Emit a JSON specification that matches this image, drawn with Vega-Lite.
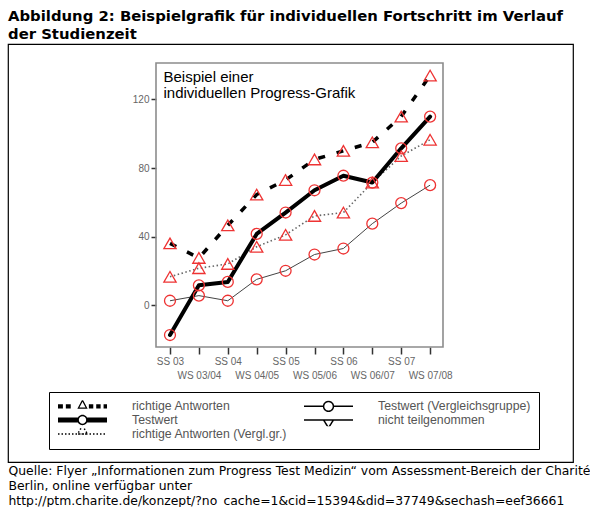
{
  "$schema": "https://vega.github.io/schema/vega-lite/v6.json",
  "width": 565,
  "height": 418,
  "padding": {"left": 8, "top": 9, "right": 0, "bottom": 0},
  "background": "white",
  "title": {
    "text": ["Abbildung 2: Beispielgrafik für individuellen Fortschritt im Verlauf", "der Studienzeit"],
    "anchor": "start",
    "frame": "group",
    "font": "DejaVu Sans",
    "fontSize": 14.85,
    "fontWeight": "bold",
    "color": "black",
    "lineHeight": 18,
    "offset": 2
  },
  "config": {
    "view": {"stroke": "black", "strokeWidth": 1.2},
    "axis": {"grid": false}
  },
  "data": {
    "values": [
      {"i": 0, "sem": "SS 03", "series": "richtige Antworten", "value": 36},
      {"i": 1, "sem": "WS 03/04", "series": "richtige Antworten", "value": 27.5},
      {"i": 2, "sem": "SS 04", "series": "richtige Antworten", "value": 46.5},
      {"i": 3, "sem": "WS 04/05", "series": "richtige Antworten", "value": 64.5},
      {"i": 4, "sem": "SS 05", "series": "richtige Antworten", "value": 73},
      {"i": 5, "sem": "WS 05/06", "series": "richtige Antworten", "value": 85},
      {"i": 6, "sem": "SS 06", "series": "richtige Antworten", "value": 90},
      {"i": 7, "sem": "WS 06/07", "series": "richtige Antworten", "value": 95},
      {"i": 8, "sem": "SS 07", "series": "richtige Antworten", "value": 110},
      {"i": 9, "sem": "WS 07/08", "series": "richtige Antworten", "value": 134},
      {"i": 0, "sem": "SS 03", "series": "Testwert", "value": -17.5},
      {"i": 1, "sem": "WS 03/04", "series": "Testwert", "value": 11.5},
      {"i": 2, "sem": "SS 04", "series": "Testwert", "value": 13.5},
      {"i": 3, "sem": "WS 04/05", "series": "Testwert", "value": 41.5},
      {"i": 4, "sem": "SS 05", "series": "Testwert", "value": 54},
      {"i": 5, "sem": "WS 05/06", "series": "Testwert", "value": 67},
      {"i": 6, "sem": "SS 06", "series": "Testwert", "value": 75.5},
      {"i": 7, "sem": "WS 06/07", "series": "Testwert", "value": 71.5},
      {"i": 8, "sem": "SS 07", "series": "Testwert", "value": 91.5},
      {"i": 9, "sem": "WS 07/08", "series": "Testwert", "value": 110},
      {"i": 0, "sem": "SS 03", "series": "richtige Antworten (Vergl.gr.)", "value": 16.5},
      {"i": 1, "sem": "WS 03/04", "series": "richtige Antworten (Vergl.gr.)", "value": 21.5},
      {"i": 2, "sem": "SS 04", "series": "richtige Antworten (Vergl.gr.)", "value": 24},
      {"i": 3, "sem": "WS 04/05", "series": "richtige Antworten (Vergl.gr.)", "value": 34},
      {"i": 4, "sem": "SS 05", "series": "richtige Antworten (Vergl.gr.)", "value": 41},
      {"i": 5, "sem": "WS 05/06", "series": "richtige Antworten (Vergl.gr.)", "value": 52},
      {"i": 6, "sem": "SS 06", "series": "richtige Antworten (Vergl.gr.)", "value": 54},
      {"i": 7, "sem": "WS 06/07", "series": "richtige Antworten (Vergl.gr.)", "value": 71.5},
      {"i": 8, "sem": "SS 07", "series": "richtige Antworten (Vergl.gr.)", "value": 87},
      {"i": 9, "sem": "WS 07/08", "series": "richtige Antworten (Vergl.gr.)", "value": 96.5},
      {"i": 0, "sem": "SS 03", "series": "Testwert (Vergleichsgruppe)", "value": 2.5},
      {"i": 1, "sem": "WS 03/04", "series": "Testwert (Vergleichsgruppe)", "value": 5.5},
      {"i": 2, "sem": "SS 04", "series": "Testwert (Vergleichsgruppe)", "value": 2.5},
      {"i": 3, "sem": "WS 04/05", "series": "Testwert (Vergleichsgruppe)", "value": 15},
      {"i": 4, "sem": "SS 05", "series": "Testwert (Vergleichsgruppe)", "value": 20},
      {"i": 5, "sem": "WS 05/06", "series": "Testwert (Vergleichsgruppe)", "value": 29.5},
      {"i": 6, "sem": "SS 06", "series": "Testwert (Vergleichsgruppe)", "value": 33},
      {"i": 7, "sem": "WS 06/07", "series": "Testwert (Vergleichsgruppe)", "value": 47.5},
      {"i": 8, "sem": "SS 07", "series": "Testwert (Vergleichsgruppe)", "value": 59.5},
      {"i": 9, "sem": "WS 07/08", "series": "Testwert (Vergleichsgruppe)", "value": 70}
    ]
  },
  "encoding": {
    "x": {
      "field": "i",
      "type": "quantitative",
      "scale": {"domain": [-0.484, 9.446], "range": [148, 435], "nice": false, "zero": false},
      "axis": {
        "values": [0, 1, 2, 3, 4, 5, 6, 7, 8, 9],
        "labelExpr": "datum.value % 2 == 1 ? ['', ['SS 03','WS 03/04','SS 04','WS 04/05','SS 05','WS 05/06','SS 06','WS 06/07','SS 07','WS 07/08'][datum.value]] : ['SS 03','WS 03/04','SS 04','WS 04/05','SS 05','WS 05/06','SS 06','WS 06/07','SS 07','WS 07/08'][datum.value]",
        "offset": -115,
        "domain": false,
        "tickSize": 7,
        "tickWidth": 1.5,
        "tickColor": "#333333",
        "labelFont": "Liberation Sans",
        "labelFontSize": 10,
        "labelColor": "#666666",
        "labelPadding": 2,
        "labelLineHeight": 14,
        "labelBaseline": "top",
        "labelOverlap": false,
        "labelFlush": false,
        "title": [
          "Quelle: Flyer „Informationen zum Progress Test Medizin“ vom Assessment-Bereich der Charité",
          "Berlin, online verfügbar unter",
          "http://ptm.charite.de/konzept/?no_cache=1&cid=15394&did=37749&sechash=eef36661"
        ],
        "titleX": 0,
        "titleY": 127,
        "titleAlign": "left",
        "titleBaseline": "alphabetic",
        "titleFont": "DejaVu Sans",
        "titleFontSize": 12.4,
        "titleFontWeight": "normal",
        "titleColor": "black",
        "titleLineHeight": 15.2
      }
    },
    "y": {
      "field": "value",
      "type": "quantitative",
      "scale": {"domain": [-24.5, 141.3], "range": [303, 19], "nice": false, "zero": false},
      "axis": {
        "values": [0, 40, 80, 120],
        "offset": -148,
        "domain": false,
        "tickSize": 5,
        "tickWidth": 1.5,
        "tickColor": "#333333",
        "labelFont": "Liberation Sans",
        "labelFontSize": 10,
        "labelColor": "#666666",
        "labelPadding": 2,
        "title": ["Beispiel einer", "individuellen Progress-Grafik"],
        "titleX": 7,
        "titleY": 37,
        "titleAngle": 0,
        "titleAlign": "left",
        "titleBaseline": "alphabetic",
        "titleFont": "Liberation Sans",
        "titleFontSize": 15,
        "titleFontWeight": "normal",
        "titleColor": "black",
        "titleLineHeight": 16
      }
    }
  },
  "layer": [
    {
      "data": {"values": [{"lo": -0.484, "hi": 9.446, "bottom": -24.5, "top": 141.3}]},
      "mark": {"type": "rect", "fill": "transparent", "stroke": "#8c8c8c", "strokeWidth": 1.6},
      "encoding": {
        "x": {"field": "lo", "type": "quantitative"},
        "x2": {"field": "hi"},
        "y": {"field": "bottom", "type": "quantitative"},
        "y2": {"field": "top"}
      }
    },
    {
      "transform": [{"filter": "datum.series === 'Testwert (Vergleichsgruppe)'"}],
      "mark": {"type": "line", "color": "#444444", "strokeWidth": 1}
    },
    {
      "transform": [{"filter": "datum.series === 'richtige Antworten (Vergl.gr.)'"}],
      "mark": {"type": "line", "color": "#666666", "strokeWidth": 1.6, "strokeDash": [1.5, 2.5]}
    },
    {
      "transform": [{"filter": "datum.series === 'richtige Antworten'"}],
      "mark": {"type": "line", "color": "black", "strokeWidth": 3.5, "strokeDash": [7, 12]}
    },
    {
      "transform": [{"filter": "datum.series === 'Testwert'"}],
      "mark": {"type": "line", "color": "black", "strokeWidth": 4, "strokeJoin": "round", "strokeCap": "round"}
    },
    {
      "transform": [{"filter": "datum.series === 'richtige Antworten' || datum.series === 'richtige Antworten (Vergl.gr.)'"}],
      "mark": {"type": "point", "shape": "triangle-up", "size": 150, "filled": false, "stroke": "#ee3333", "strokeWidth": 1.3, "opacity": 1}
    },
    {
      "transform": [{"filter": "datum.series === 'Testwert' || datum.series === 'Testwert (Vergleichsgruppe)'"}],
      "mark": {"type": "point", "shape": "circle", "size": 120, "filled": false, "stroke": "#ee3333", "strokeWidth": 1.3, "opacity": 1}
    },
    {
      "transform": [{"filter": "false"}],
      "mark": {"type": "point", "size": 2401, "filled": true, "opacity": 1, "strokeWidth": 1.5},
      "encoding": {
        "shape": {
          "field": "series",
          "type": "nominal",
          "scale": {
            "domain": ["richtige Antworten", "Testwert", "richtige Antworten (Vergl.gr.)", "Testwert (Vergleichsgruppe)", "nicht teilgenommen"],
            "range": [
              "M -1 -0.09 L -0.8 -0.09 L -0.8 0.09 L -1 0.09 Z M -0.68 -0.09 L -0.48 -0.09 L -0.48 0.09 L -0.68 0.09 Z M 0.26 -0.09 L 0.44 -0.09 L 0.44 0.09 L 0.26 0.09 Z M 0.56 -0.09 L 0.74 -0.09 L 0.74 0.09 L 0.56 0.09 Z M 0.86 -0.09 L 1 -0.09 L 1 0.09 L 0.86 0.09 Z M 0 -0.3 L 0.21 0.1 L -0.21 0.1 Z M 0 -0.19 L -0.126 0.05 L 0.126 0.05 Z",
              "M -1 -0.1 L -0.19 -0.1 L -0.19 0.1 L -1 0.1 Z M 0.19 -0.1 L 1 -0.1 L 1 0.1 L 0.19 0.1 Z M 0.21 0 A 0.21 0.21 0 1 1 -0.21 0 A 0.21 0.21 0 1 1 0.21 0 Z M 0.15 0 A 0.15 0.15 0 1 0 -0.15 0 A 0.15 0.15 0 1 0 0.15 0 Z",
              "M -1 0 L 1 0 M 0 -0.34 L 0.2 0 L -0.2 0 Z",
              "M -1 0 L -0.2 0 M 0.2 0 L 1 0 M 0.2 0 A 0.2 0.2 0 1 1 -0.2 0 A 0.2 0.2 0 1 1 0.2 0 Z",
              "M -1 0 L 1 0 M -0.2 0 L 0.2 0 L 0 0.32 Z"
            ]
          },
          "legend": {
            "title": null,
            "orient": "none",
            "legendX": 41,
            "legendY": 348,
            "columns": 2,
            "gridAlign": "all",
            "symbolSize": 2401,
            "symbolLimit": 0,
            "clipHeight": 12,
            "labelFont": "Liberation Sans",
            "labelFontSize": 12.3,
            "labelColor": "#555555",
            "labelOffset": 24,
            "labelLimit": 0,
            "columnPadding": 15,
            "rowPadding": 1,
            "padding": 8,
            "strokeColor": "black",
            "fillColor": "white"
          }
        },
        "fill": {
          "field": "series",
          "type": "nominal",
          "scale": {
            "domain": ["richtige Antworten", "Testwert", "richtige Antworten (Vergl.gr.)", "Testwert (Vergleichsgruppe)", "nicht teilgenommen"],
            "range": ["black", "black", "white", "white", "white"]
          }
        },
        "stroke": {
          "field": "series",
          "type": "nominal",
          "scale": {
            "domain": ["richtige Antworten", "Testwert", "richtige Antworten (Vergl.gr.)", "Testwert (Vergleichsgruppe)", "nicht teilgenommen"],
            "range": ["transparent", "transparent", "black", "black", "black"]
          }
        },
        "strokeDash": {
          "field": "series",
          "type": "nominal",
          "scale": {
            "domain": ["richtige Antworten", "Testwert", "richtige Antworten (Vergl.gr.)", "Testwert (Vergleichsgruppe)", "nicht teilgenommen"],
            "range": [[1, 0], [1, 0], [1.5, 2], [1, 0], [1, 0]]
          }
        }
      }
    }
  ]
}
